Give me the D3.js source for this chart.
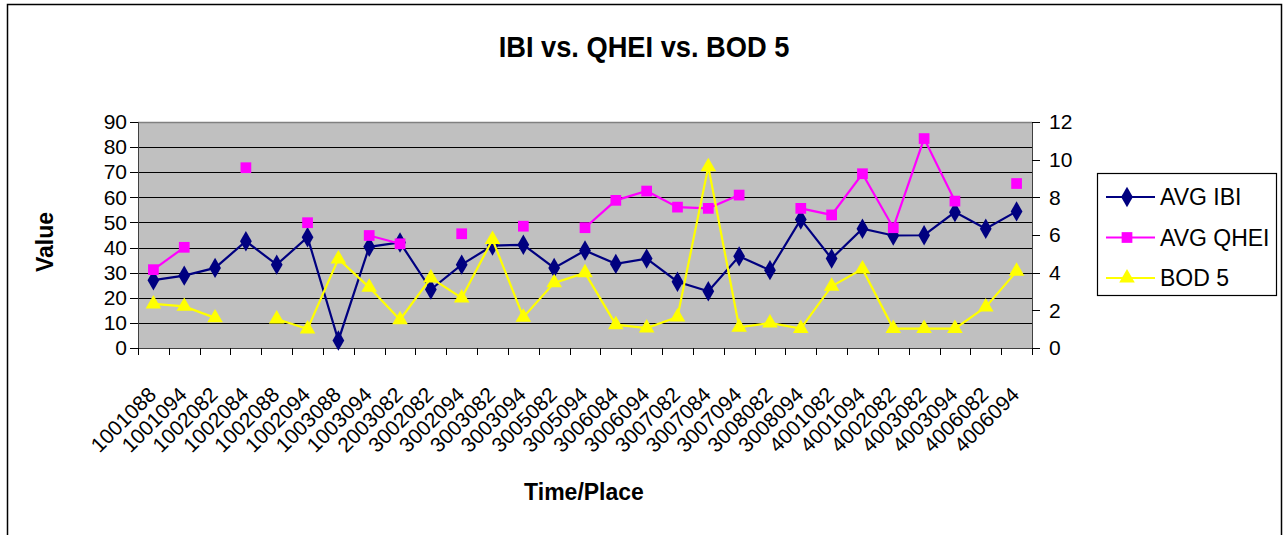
<!DOCTYPE html>
<html>
<head>
<meta charset="utf-8">
<script src="https://cdn.jsdelivr.net/npm/d3@7"></script>
<style>
  body { margin: 0; background: #fff; }
  svg { display: block; font-family: "Liberation Sans", Arial, sans-serif; }
  .axis path, .axis line { shape-rendering: crispEdges; }
</style>
</head>
<body>
<div id="chart"></div>
<script>
const places = ["1001088", "1001094", "1002082", "1002084", "1002088", "1002094", "1003088",
    "1003094", "2003082", "3002082", "3002094", "3003082", "3003094", "3005082", "3005094",
    "3006084", "3006094", "3007082", "3007084", "3007094", "3008082", "3008094", "4001082",
    "4001094", "4002082", "4003082", "4003094", "4006082", "4006094"];

const avgIbi = [27, 28.8, 31.9, 42.5, 33.2, 44.1, 3, 40.3, 42, 23.3, 33.2, 40.8, 41.1, 31.9, 38.8,
    33.5, 35.6, 26.4, 22.6, 36.5, 31, 51.2, 35.6, 47.5, 44.8, 44.9, 54.1, 47.5, 54.4];

const avgQhei = [31.2, 40.1, null, 71.8, null, 49.9, null, 44.8, 41.5, null, 45.5, null, 48.5, null, 47.9,
    58.8, 62.5, 56.1, 55.6, 60.9, null, 55.6, 53, 69.4, 47.9, 83.4, 58.5, null, 65.5];

const bod5 = [2.34, 2.21, 1.6, null, 1.54, 1.01, 4.73, 3.22, 1.5, 3.72, 2.66, 5.76, 1.63, 3.46, 3.99,
    1.24, 1.06, 1.65, 9.63, 1.1, 1.33, 1.03, 3.28, 4.2, 1.03, 1.03, 1.03, 2.18, 4.07];

const leftTicks = [0, 10, 20, 30, 40, 50, 60, 70, 80, 90];
const rightTicks = [0, 2, 4, 6, 8, 10, 12];

const seriesNames = ["AVG IBI", "AVG QHEI", "BOD 5"];

const width = 1283;
const height = 535;
const plot = {left: 138, right: 1032, top: 122, bottom: 348};
const colors = ["#000080", "#ff00ff", "#ffff00"];

const svg = d3.select("#chart").append("svg")
    .attr("width", width)
    .attr("height", height);

// outer chart frame
svg.append("path")
    .attr("d", `M7.5,${height + 5} V4.5 H1281.5 V${height + 5}`)
    .attr("fill", "none")
    .attr("stroke", "#000")
    .attr("stroke-width", 1.5);

/* Scales */
const x = d3.scaleBand()
    .domain(places)
    .range([plot.left, plot.right])
    .padding(0);

const xEdges = d3.scaleLinear()
    .domain([0, places.length])
    .range([plot.left, plot.right]);

const yLeft = d3.scaleLinear()
    .domain([0, 90])
    .range([plot.bottom, plot.top]);

const yRight = d3.scaleLinear()
    .domain([0, 12])
    .range([plot.bottom, plot.top]);

const cx = d => x(d) + x.bandwidth() / 2;

// plot background
svg.append("rect")
    .attr("x", plot.left)
    .attr("y", plot.top)
    .attr("width", plot.right - plot.left)
    .attr("height", plot.bottom - plot.top)
    .attr("fill", "#c0c0c0");

// gridlines
svg.append("g")
    .attr("class", "axis grid")
    .attr("transform", `translate(${plot.left},0)`)
    .call(d3.axisLeft(yLeft).tickValues(leftTicks.slice(1, -1)).tickSize(-(plot.right - plot.left)).tickFormat(""))
    .call(g => g.select(".domain").remove())
    .call(g => g.selectAll("line").attr("stroke", "#000"));

svg.append("line")
    .attr("x1", plot.left).attr("x2", plot.right)
    .attr("y1", plot.top + 0.5).attr("y2", plot.top + 0.5)
    .attr("stroke", "#808080")
    .attr("stroke-width", 1.5);

/* Axes */
svg.append("g")
    .attr("class", "axis")
    .attr("transform", `translate(${plot.left},0)`)
    .call(d3.axisLeft(yLeft).tickValues(leftTicks).tickSize(8).tickPadding(3))
    .call(g => g.select(".domain").attr("stroke", "#404040").attr("stroke-width", 1.5))
    .call(g => g.selectAll("text").attr("font-size", 21).attr("fill", "#000"));

svg.append("g")
    .attr("class", "axis")
    .attr("transform", `translate(${plot.right},0)`)
    .call(d3.axisRight(yRight).tickValues(rightTicks).tickSize(8).tickPadding(9))
    .call(g => g.select(".domain").attr("stroke", "#404040").attr("stroke-width", 1.5))
    .call(g => g.selectAll("text").attr("font-size", 21).attr("fill", "#000"));

svg.append("g")
    .attr("class", "axis")
    .attr("transform", `translate(0,${plot.bottom})`)
    .call(d3.axisBottom(xEdges).ticks(places.length).tickSize(7).tickFormat(""))
    .call(g => g.select(".domain").attr("stroke", "#404040").attr("stroke-width", 1.5));

svg.append("g")
    .attr("class", "axis")
    .attr("transform", `translate(0,${plot.bottom})`)
    .call(d3.axisBottom(x).tickSize(0))
    .call(g => g.select(".domain").remove())
    .selectAll("text")
    .attr("font-size", 21)
    .attr("fill", "#000")
    .attr("text-anchor", "end")
    .attr("y", 0)
    .attr("dy", null)
    .attr("transform", "translate(4,48) rotate(-45)");

/* Titles */
svg.append("text")
    .attr("transform", "translate(644,57) scale(0.94,1)")
    .attr("text-anchor", "middle")
    .attr("font-size", 29)
    .attr("font-weight", "bold")
    .text("IBI vs. QHEI vs. BOD 5");

svg.append("text")
    .attr("transform", "translate(53,242) rotate(-90)")
    .attr("text-anchor", "middle")
    .attr("font-size", 23)
    .attr("font-weight", "bold")
    .text("Value");

svg.append("text")
    .attr("x", 584)
    .attr("y", 500)
    .attr("text-anchor", "middle")
    .attr("font-size", 23)
    .attr("font-weight", "bold")
    .text("Time/Place");

/* Series */
const series = [
    {name: seriesNames[0], values: avgIbi, y: yLeft, symbol: d3.symbolDiamond, size: 120},
    {name: seriesNames[1], values: avgQhei, y: yLeft, symbol: d3.symbolSquare, size: 115},
    {name: seriesNames[2], values: bod5, y: yRight, symbol: d3.symbolTriangle, size: 105},
];

series.forEach(function(s, i) {
    const pts = places.map((p, j) => ({place: p, value: s.values[j]}));
    const line = d3.line()
        .defined(d => d.value != null)
        .x(d => cx(d.place))
        .y(d => s.y(d.value));

    svg.append("path")
        .attr("d", line(pts))
        .attr("fill", "none")
        .attr("stroke", colors[i])
        .attr("stroke-width", 2.2);

    svg.append("g")
        .selectAll("path")
        .data(pts.filter(d => d.value != null))
        .enter()
        .append("path")
        .attr("d", d3.symbol().type(s.symbol).size(s.size))
        .attr("transform", d => `translate(${cx(d.place)},${s.y(d.value)})`)
        .attr("fill", colors[i]);
});

/* Legend */
const legend = svg.append("g")
    .attr("transform", "translate(1097,173)");

legend.append("rect")
    .attr("x", 0.5).attr("y", 0.5)
    .attr("width", 179).attr("height", 122)
    .attr("fill", "#fff")
    .attr("stroke", "#000")
    .attr("stroke-width", 1.2);

const rows = legend.selectAll(".row")
    .data(series).enter()
    .append("g")
    .attr("transform", (d, i) => `translate(0,${24 + i * 40.5})`);

rows.append("line")
    .attr("x1", 9).attr("x2", 58)
    .attr("stroke", (d, i) => colors[i])
    .attr("stroke-width", 2.2);

rows.append("path")
    .attr("d", d => d3.symbol().type(d.symbol).size(d.size)())
    .attr("transform", "translate(30,0)")
    .attr("fill", (d, i) => colors[i]);

rows.append("text")
    .attr("x", 63)
    .attr("dy", "0.36em")
    .attr("font-size", 23)
    .text(d => d.name);
</script>
</body>
</html>
